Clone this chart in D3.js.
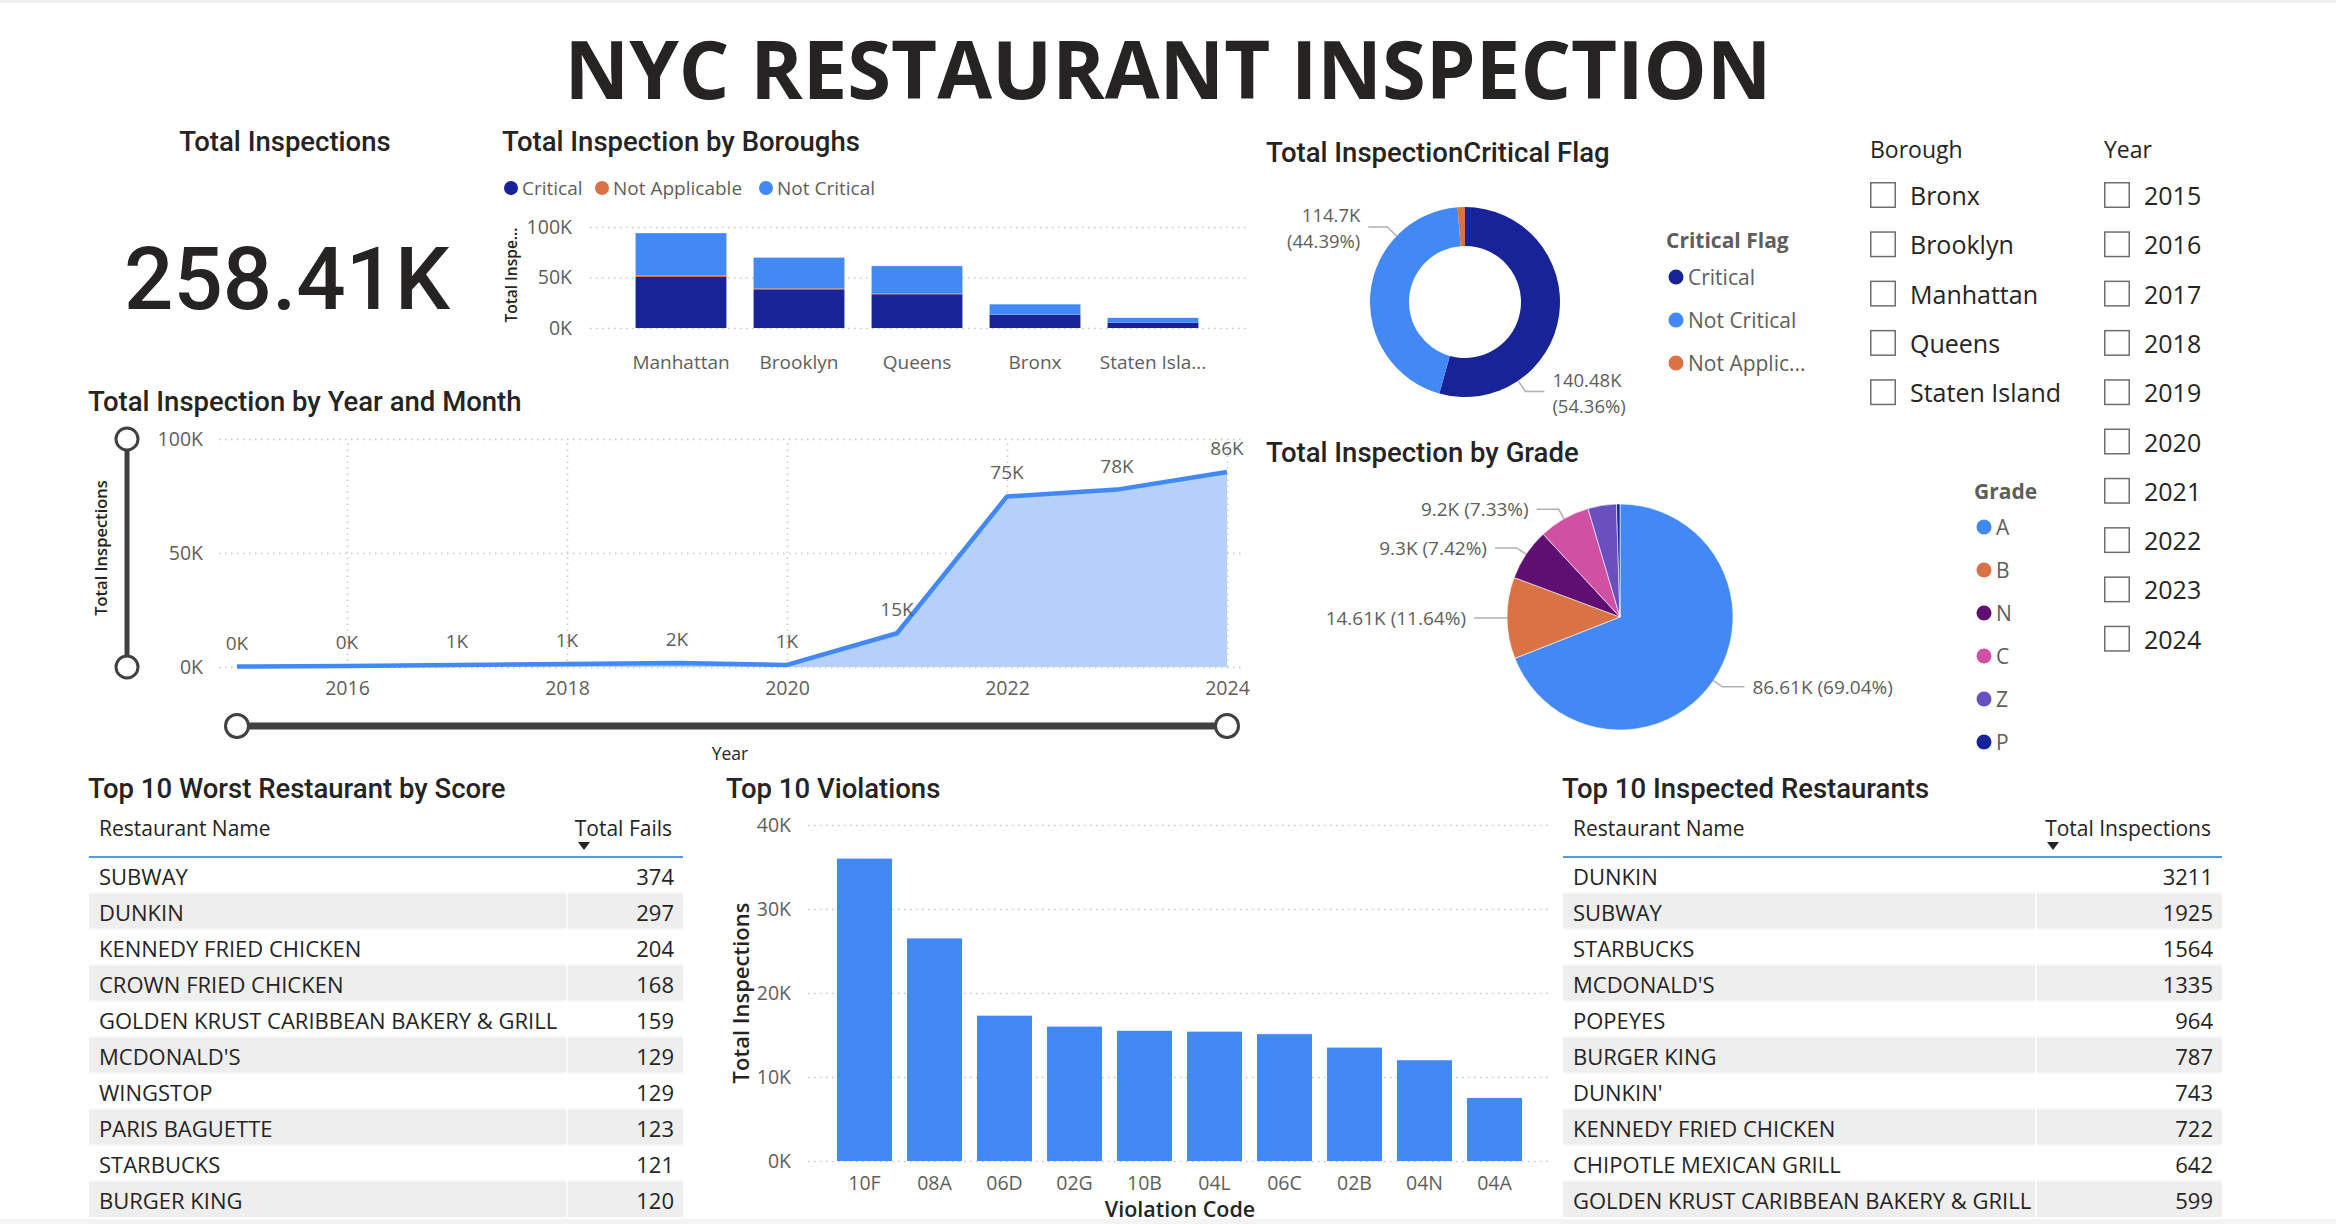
<!DOCTYPE html>
<html><head><meta charset="utf-8">
<script src="https://cdn.jsdelivr.net/npm/d3@7"></script>
<style>
body{margin:0;background:#fff;}
svg{display:block;}
</style></head><body>
<svg id="c" width="2336" height="1224"></svg>
<script>
// ================= DATA =================
const dashboardTitle = "NYC RESTAURANT INSPECTION";
const totalInspections = 258410;

const boroughs = ["Manhattan","Brooklyn","Queens","Bronx","Staten Island"];
const boroughCritical = [50500,38300,33400,13000,5280];
const boroughNotApplicable = [1400,900,600,250,80];
const boroughNotCritical = [42000,30500,27300,10200,4700];
const boroughYTicks = [0,50000,100000];

const years = [2015,2016,2017,2018,2019,2020,2021,2022,2023,2024];
const yearInspections = [200,400,900,1300,1800,900,14800,74800,77800,85500];
const yearXTicks = [2016,2018,2020,2022,2024];
const yearYTicks = [0,50000,100000];

const criticalFlags = ["Critical","Not Critical","Not Applicable"];
const criticalFlagValues = [140480,114700,3230];

const grades = ["A","B","N","C","Z","P"];
const gradeValues = [86610,14606,9304,9200,5100,629];

const slicerBoroughs = ["Bronx","Brooklyn","Manhattan","Queens","Staten Island"];
const slicerYears = ["2015","2016","2017","2018","2019","2020","2021","2022","2023","2024"];

const worstNames = ["SUBWAY","DUNKIN","KENNEDY FRIED CHICKEN","CROWN FRIED CHICKEN","GOLDEN KRUST CARIBBEAN BAKERY & GRILL","MCDONALD'S","WINGSTOP","PARIS BAGUETTE","STARBUCKS","BURGER KING"];
const worstFails = [374,297,204,168,159,129,129,123,121,120];

const violationCodes = ["10F","08A","06D","02G","10B","04L","06C","02B","04N","04A"];
const violationCounts = [36000,26500,17300,16000,15500,15400,15100,13500,12000,7500];
const violationYTicks = [0,10000,20000,30000,40000];

const inspectedNames = ["DUNKIN","SUBWAY","STARBUCKS","MCDONALD'S","POPEYES","BURGER KING","DUNKIN'","KENNEDY FRIED CHICKEN","CHIPOTLE MEXICAN GRILL","GOLDEN KRUST CARIBBEAN BAKERY & GRILL"];
const inspectedCounts = [3211,1925,1564,1335,964,787,743,722,642,599];

// ================= STYLE =================
const C = {text:"#252423", sub:"#605E5C", grid:"#C8C6C4", blue:"#4289F5", navy:"#172396",
  orange:"#DA7243", area:"#B5D0F9", slider:"#404040"};
const flagColor = {"Critical":C.navy,"Not Critical":C.blue,"Not Applicable":C.orange};
const gradeColor = {A:C.blue,B:"#D97345",N:"#5F0F72",C:"#D050A4",Z:"#6A50BE",P:"#15249A"};
const TF = "Roboto, sans-serif";      // titles
const LF = "'Open Sans', sans-serif"; // labels
const TS = 27.5, TW = 500;           // title size / weight

const svg = d3.select("#c");
const kfmt = d => (d/1000) + "K";
const trunc = (s, max, keep) => s.length > max ? s.slice(0, keep) + "..." : s;

function txt(g, x, y, s, o = {}) {
  return g.append("text").attr("x", x).attr("y", y).text(s)
    .attr("font-family", o.f || TF).attr("font-size", o.s || TS)
    .attr("font-weight", o.w || (o.f ? 400 : TW)).attr("fill", o.c || C.text)
    .attr("text-anchor", o.a || "start").attr("dominant-baseline", "central");
}
function styleGridAxis(g, labelSize) {
  g.select(".domain").remove();
  g.selectAll(".tick line").attr("stroke", C.grid).attr("stroke-width", 1.5).attr("stroke-dasharray", "1.5,4.5");
  g.selectAll(".tick text").attr("font-family", LF).attr("font-size", labelSize || 19).attr("fill", C.sub);
}

// background strips
svg.append("rect").attr("x",0).attr("y",0).attr("width",2336).attr("height",3).attr("fill","#EFEFEF");
svg.append("rect").attr("x",0).attr("y",1219).attr("width",2336).attr("height",5).attr("fill","#F3F3F3");

// ================= MAIN TITLE =================
svg.append("text").attr("x", 1168).attr("y", 99).attr("text-anchor","middle")
  .attr("font-family", LF).attr("font-weight", 700).attr("font-size", 80).attr("fill", C.text)
  .attr("textLength", 1207).attr("lengthAdjust","spacingAndGlyphs").text(dashboardTitle);

// ================= KPI CARD =================
txt(svg, 285, 141, "Total Inspections", {a:"middle"});
svg.append("text").attr("x", 287).attr("y", 309).attr("text-anchor","middle")
  .attr("font-family", TF).attr("font-weight", 500).attr("font-size", 87).attr("fill", C.text)
  .attr("textLength", 326).attr("lengthAdjust","spacingAndGlyphs")
  .text(d3.format(".2f")(totalInspections/1000) + "K");

// ================= BOROUGH STACKED BAR =================
{
  const g = svg.append("g");
  txt(g, 502, 141, "Total Inspection by Boroughs");
  const keys = ["Critical","Not Applicable","Not Critical"];
  const legX = [511, 602, 766];
  keys.forEach((k,i) => {
    g.append("circle").attr("cx", legX[i]).attr("cy", 188).attr("r", 7).attr("fill", flagColor[k]);
    txt(g, legX[i] + 11, 188, k, {f:LF, s:19, c:C.sub});
  });
  const x = d3.scaleBand().domain(boroughs).range([622,1212]).paddingInner(0.23).paddingOuter(0.115);
  const y = d3.scaleLinear().domain([0,100000]).range([328,227]);
  g.append("g").attr("transform","translate(590,0)")
    .call(d3.axisLeft(y).tickValues(boroughYTicks).tickFormat(kfmt).tickSize(-(1248-590)).tickPadding(18))
    .call(a => styleGridAxis(a, 19.5));
  const rows = boroughs.map((b,i) => ({borough:b, "Critical":boroughCritical[i],
    "Not Applicable":boroughNotApplicable[i], "Not Critical":boroughNotCritical[i]}));
  const series = d3.stack().keys(keys)(rows);
  g.append("g").selectAll("g").data(series).join("g").attr("fill", s => flagColor[s.key])
    .selectAll("rect").data(s => s).join("rect")
    .attr("x", d => x(d.data.borough)).attr("width", x.bandwidth())
    .attr("y", d => y(d[1])).attr("height", d => y(d[0]) - y(d[1]));
  const xa = g.append("g").attr("transform","translate(0,328)")
    .call(d3.axisBottom(x).tickSize(0).tickFormat(d => trunc(d, 12, 11)));
  xa.select(".domain").remove();
  xa.selectAll("text").attr("y", 34).attr("dy", null).attr("dominant-baseline","central")
    .attr("font-family", LF).attr("font-size", 19).attr("fill", C.sub);
  g.append("text").attr("transform","translate(511,275) rotate(-90)").attr("text-anchor","middle")
    .attr("dominant-baseline","central").attr("font-family", LF).attr("font-weight",600)
    .attr("font-size", 15.5).attr("fill", C.text).text("Total Inspe...");
}

// ================= YEAR AREA/LINE =================
{
  const g = svg.append("g");
  txt(g, 88, 401, "Total Inspection by Year and Month");
  const x = d3.scaleLinear().domain([2015,2024]).range([237,1227]);
  const y = d3.scaleLinear().domain([0,100000]).range([667,439]);
  g.append("g").attr("transform","translate(219,0)")
    .call(d3.axisLeft(y).tickValues(yearYTicks).tickFormat(kfmt).tickSize(-(1244-219)).tickPadding(16))
    .call(a => styleGridAxis(a, 19.5));
  const xa = g.append("g").attr("transform","translate(0,667)")
    .call(d3.axisBottom(x).tickValues(yearXTicks).tickFormat(d3.format("d")).tickSize(-(667-439)));
  styleGridAxis(xa, 19.5);
  xa.selectAll(".tick text").attr("y", 20).attr("dy", null).attr("dominant-baseline","central");
  const pts = years.map((yr,i) => ({yr, v:yearInspections[i]}));
  g.append("path").datum(pts).attr("fill", C.area)
    .attr("d", d3.area().x(d => x(d.yr)).y0(y(0)).y1(d => y(d.v)));
  g.append("path").datum(pts).attr("fill","none").attr("stroke", C.blue).attr("stroke-width", 4.5)
    .attr("stroke-linejoin","round")
    .attr("d", d3.line().x(d => x(d.yr)).y(d => y(d.v)));
  g.selectAll("text.dl").data(pts).join("text").attr("class","dl")
    .attr("x", d => x(d.yr)).attr("y", d => y(d.v) - 24).attr("text-anchor","middle")
    .attr("dominant-baseline","central").attr("font-family", LF).attr("font-size", 19).attr("fill", C.sub)
    .text(d => Math.round(d.v/1000) + "K");
  g.append("text").attr("transform","translate(100,548) rotate(-90)").attr("text-anchor","middle")
    .attr("dominant-baseline","central").attr("font-family", LF).attr("font-weight",600)
    .attr("font-size", 16.5).attr("fill", C.text).text("Total Inspections");
  txt(g, 730, 753, "Year", {f:LF, s:17.5, a:"middle"});
  const vs = g.append("g");
  vs.append("line").attr("x1",127).attr("x2",127).attr("y1", y(100000)).attr("y2", y(0))
    .attr("stroke", C.slider).attr("stroke-width", 5);
  [100000, 0].forEach(v => vs.append("circle").attr("cx",127).attr("cy", y(v)).attr("r", 11)
    .attr("fill","#fff").attr("stroke", C.slider).attr("stroke-width", 3));
  const hs = g.append("g");
  hs.append("line").attr("x1", x(2015)).attr("x2", x(2024)).attr("y1", 726).attr("y2", 726)
    .attr("stroke", C.slider).attr("stroke-width", 7);
  [2015, 2024].forEach(v => hs.append("circle").attr("cx", x(v)).attr("cy", 726).attr("r", 11.5)
    .attr("fill","#fff").attr("stroke", C.slider).attr("stroke-width", 3));
}

// ================= DONUT: CRITICAL FLAG =================
{
  const g = svg.append("g");
  txt(g, 1266, 152, "Total InspectionCritical Flag");
  const cx = 1465, cy = 302, R = 95, r0 = 56;
  const total = d3.sum(criticalFlagValues);
  const data = criticalFlags.map((k,i) => ({k, v:criticalFlagValues[i]}));
  const arcs = d3.pie().sort(null).value(d => d.v)(data);
  const arc = d3.arc().innerRadius(r0).outerRadius(R);
  const dg = g.append("g").attr("transform", `translate(${cx},${cy})`);
  dg.selectAll("path").data(arcs).join("path").attr("d", arc).attr("fill", d => flagColor[d.data.k]);
  const labelAngle = {"Critical":146, "Not Critical":314};
  arcs.filter(a => labelAngle[a.data.k] !== undefined).forEach(a => {
    const t = labelAngle[a.data.k] * Math.PI/180;
    const p0 = [Math.sin(t)*R, -Math.cos(t)*R];
    const p1 = [Math.sin(t)*(R+13), -Math.cos(t)*(R+13)];
    const side = Math.sin(t) >= 0 ? 1 : -1;
    const p2 = [p1[0] + side*19, p1[1]];
    dg.append("polyline").attr("points", [p0,p1,p2].map(p => p.join(",")).join(" "))
      .attr("fill","none").attr("stroke","#B3B0AD").attr("stroke-width",1.5);
    const tx = p2[0] + side*8, anchor = side > 0 ? "start" : "end";
    txt(dg, tx, p2[1] - 12, +(a.data.v/1000).toFixed(2) + "K", {f:LF, s:18.5, c:C.sub, a:anchor});
    txt(dg, tx, p2[1] + 14, "(" + (a.data.v/total*100).toFixed(2) + "%)", {f:LF, s:18.5, c:C.sub, a:anchor});
  });
  txt(g, 1666, 240, "Critical Flag", {f:LF, s:21, w:700, c:C.sub});
  criticalFlags.forEach((k,i) => {
    const yy = 277 + i*43;
    g.append("circle").attr("cx", 1676).attr("cy", yy).attr("r", 7.5).attr("fill", flagColor[k]);
    txt(g, 1688, yy, trunc(k, 12, 10), {f:LF, s:21, c:C.sub});
  });
}

// ================= PIE: GRADE =================
{
  const g = svg.append("g");
  txt(g, 1266, 452, "Total Inspection by Grade");
  const cx = 1620, cy = 617, R = 113;
  const total = d3.sum(gradeValues);
  const data = grades.map((k,i) => ({k, v:gradeValues[i]}));
  const arcs = d3.pie().sort(null).value(d => d.v)(data);
  const arc = d3.arc().innerRadius(0).outerRadius(R);
  const pg = g.append("g").attr("transform", `translate(${cx},${cy})`);
  pg.selectAll("path").data(arcs).join("path").attr("d", arc).attr("fill", d => gradeColor[d.data.k])
    .attr("stroke","#fff").attr("stroke-width",0.6);
  arcs.filter(a => a.data.v / total > 0.05).forEach(a => {
    const t = (a.startAngle + a.endAngle)/2;
    const p0 = [Math.sin(t)*R, -Math.cos(t)*R];
    const p1 = [Math.sin(t)*(R+11), -Math.cos(t)*(R+11)];
    const side = Math.sin(t) >= 0 ? 1 : -1;
    const p2 = [p1[0] + side*22, p1[1]];
    pg.append("polyline").attr("points", [p0,p1,p2].map(p => p.join(",")).join(" "))
      .attr("fill","none").attr("stroke","#B3B0AD").attr("stroke-width",1.5);
    txt(pg, p2[0] + side*8, p2[1],
      +(a.data.v/1000).toFixed(2) + "K (" + (a.data.v/total*100).toFixed(2) + "%)",
      {f:LF, s:19, c:C.sub, a: side > 0 ? "start" : "end"});
  });
  txt(g, 1974, 491, "Grade", {f:LF, s:21, w:700, c:C.sub});
  grades.forEach((k,i) => {
    const yy = 527 + i*43;
    g.append("circle").attr("cx", 1984).attr("cy", yy).attr("r", 7.5).attr("fill", gradeColor[k]);
    txt(g, 1996, yy, k, {f:LF, s:21, c:C.sub});
  });
}

// ================= SLICERS =================
function slicer(x, header, items) {
  const g = svg.append("g");
  txt(g, x, 149, header, {f:LF, s:23});
  const sy = d3.scalePoint().domain(items).range([195, 195 + (items.length-1)*49.3]);
  items.forEach(it => {
    g.append("rect").attr("x", x+0.75).attr("y", sy(it)-12.25).attr("width", 24.5).attr("height", 24.5)
      .attr("fill","#fff").attr("stroke","#6E6E6E").attr("stroke-width",1.5);
    txt(g, x + 40, sy(it), it, {f:LF, s:25});
  });
}
slicer(1870, "Borough", slicerBoroughs);
slicer(2104, "Year", slicerYears);

// ================= TABLES =================
function table(x0, x1, title, colHead, names, values, sepX) {
  const g = svg.append("g");
  txt(g, x0 - 1, 788, title);
  const ry = d3.scaleBand().domain(d3.range(names.length)).range([857, 1217]);
  g.selectAll("rect.row").data(names).join("rect").attr("class","row")
    .attr("x", x0).attr("width", x1 - x0).attr("y", (d,i) => ry(i)).attr("height", ry.bandwidth())
    .attr("fill", (d,i) => i % 2 ? "#EEEEEE" : "#FFFFFF");
  g.selectAll("line.rs").data(names).join("line").attr("class","rs")
    .attr("x1", x0).attr("x2", x1).attr("y1", (d,i) => ry(i)).attr("y2", (d,i) => ry(i))
    .attr("stroke","#F7F7F7").attr("stroke-width",1.5);
  g.append("line").attr("x1", sepX).attr("x2", sepX).attr("y1", 857).attr("y2", 1217)
    .attr("stroke","#FFFFFF").attr("stroke-width",1.5);
  txt(g, x0 + 10, 828, "Restaurant Name", {f:LF, s:21});
  txt(g, x1 - 11, 828, colHead, {f:LF, s:21, a:"end"});
  g.append("path").attr("d", `M${sepX+11},${842}l12,0l-6,8z`).attr("fill", "#252423");
  g.append("line").attr("x1", x0).attr("x2", x1).attr("y1", 857).attr("y2", 857)
    .attr("stroke","#5B95E6").attr("stroke-width",2);
  g.selectAll("text.nm").data(names).join("text").attr("class","nm")
    .attr("x", x0 + 10).attr("y", (d,i) => ry(i) + ry.bandwidth()/2 + 1).attr("dominant-baseline","central")
    .attr("font-family", LF).attr("font-size", 22).attr("fill", C.text).text(d => d);
  g.selectAll("text.vl").data(values).join("text").attr("class","vl")
    .attr("x", x1 - 9).attr("y", (d,i) => ry(i) + ry.bandwidth()/2 + 1).attr("dominant-baseline","central")
    .attr("text-anchor","end").attr("font-family", LF).attr("font-size", 22).attr("fill", C.text).text(d => d);
}
table(89, 683, "Top 10 Worst Restaurant by Score", "Total Fails", worstNames, worstFails, 567);
table(1563, 2222, "Top 10 Inspected Restaurants", "Total Inspections", inspectedNames, inspectedCounts, 2036);

// ================= VIOLATIONS BAR =================
{
  const g = svg.append("g");
  txt(g, 726, 788, "Top 10 Violations");
  const x = d3.scaleBand().domain(violationCodes).range([829.5, 1529.5]).paddingInner(0.214).paddingOuter(0.107);
  const y = d3.scaleLinear().domain([0,40000]).range([1161, 825]);
  g.append("g").attr("transform","translate(808,0)")
    .call(d3.axisLeft(y).tickValues(violationYTicks).tickFormat(kfmt).tickSize(-(1549-808)).tickPadding(17))
    .call(a => styleGridAxis(a, 19.5));
  g.selectAll("rect.bar").data(violationCodes).join("rect").attr("class","bar")
    .attr("x", d => x(d)).attr("width", x.bandwidth())
    .attr("y", (d,i) => y(violationCounts[i])).attr("height", (d,i) => y(0) - y(violationCounts[i]))
    .attr("fill", C.blue);
  const xa = g.append("g").attr("transform","translate(0,1161)").call(d3.axisBottom(x).tickSize(0));
  xa.select(".domain").remove();
  xa.selectAll("text").attr("y", 21).attr("dy", null).attr("dominant-baseline","central")
    .attr("font-family", LF).attr("font-size", 19.5).attr("fill", C.sub);
  txt(g, 1180, 1208, "Violation Code", {f:LF, s:21.5, w:600, a:"middle"});
  g.append("text").attr("transform","translate(740,993) rotate(-90)").attr("text-anchor","middle")
    .attr("dominant-baseline","central").attr("font-family", LF).attr("font-weight",600)
    .attr("font-size", 22).attr("fill", C.text).text("Total Inspections");
}
</script>
</body></html>
